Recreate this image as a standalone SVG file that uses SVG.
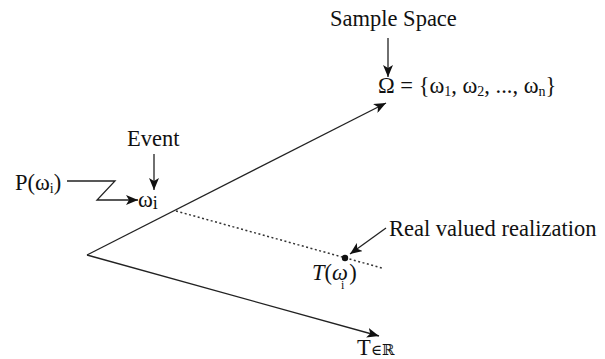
<svg xmlns="http://www.w3.org/2000/svg" width="605" height="359" viewBox="0 0 605 359">
<style>
.t{font-family:"Liberation Serif","Times New Roman",serif;fill:#111;font-size:22.5px}
.ln{stroke:#222;stroke-width:1.3;fill:none}
.dot{stroke:#333;stroke-width:1.5;fill:none;stroke-dasharray:2,2.5}
</style>
<defs>
<marker id="ah" viewBox="0 0 12 10" refX="12" refY="5" markerWidth="12" markerHeight="10" markerUnits="userSpaceOnUse" orient="auto">
<path d="M0,0 L12,5 L0,10 L3,5 Z" fill="#111"/>
</marker>
</defs>
<rect width="605" height="359" fill="#fff"/>
<g id="connectors">
<line class="ln" x1="87" y1="255" x2="386" y2="103" marker-end="url(#ah)"/>
<line class="ln" x1="87" y1="255" x2="379" y2="336" marker-end="url(#ah)"/>
<line class="dot" x1="176" y1="211" x2="382" y2="268"/>
<line class="ln" x1="388" y1="38" x2="388" y2="77" marker-end="url(#ah)"/>
<line class="ln" x1="154" y1="154" x2="154" y2="190" marker-end="url(#ah)"/>
<polyline class="ln" points="67,181 115,181 97,200 138,200" marker-end="url(#ah)"/>
<line class="ln" x1="386" y1="228" x2="350" y2="254" marker-end="url(#ah)"/>
</g>
<g id="sample-space"><text class="t" x="330" y="26">Sample Space</text></g>
<g id="omega"><text class="t" x="378" y="93">Ω = {ω<tspan font-size="14" dy="3">1</tspan><tspan dy="-3">, ω</tspan><tspan font-size="14" dy="3">2</tspan><tspan dy="-3">, ..., ω</tspan><tspan font-size="14" dy="3">n</tspan><tspan dy="-3">}</tspan></text></g>
<g id="event"><text class="t" x="127" y="146">Event</text></g>
<g id="omega-i"><text class="t" x="138" y="207">ω<tspan font-size="18" dy="2">i</tspan></text></g>
<g id="p-omega"><text class="t" x="15" y="190">P(ω<tspan font-size="14" dy="3">i</tspan><tspan dy="-3">)</tspan></text></g>
<g id="realization"><circle cx="345" cy="258" r="3.2" fill="#111"/><text class="t" x="389" y="236">Real valued realization</text></g>
<g id="t-omega"><text class="t" x="312" y="280" font-size="23"><tspan font-style="italic">T</tspan>(<tspan font-style="italic">ω</tspan><tspan font-size="12" dx="-7" dy="9">i</tspan><tspan dx="5" dy="-9">)</tspan></text></g>
<g id="t-in-r"><text class="t" x="357" y="355" font-size="17">T<tspan font-family="DejaVu Serif, serif" font-size="15">∈ℝ</tspan></text></g>
</svg>
